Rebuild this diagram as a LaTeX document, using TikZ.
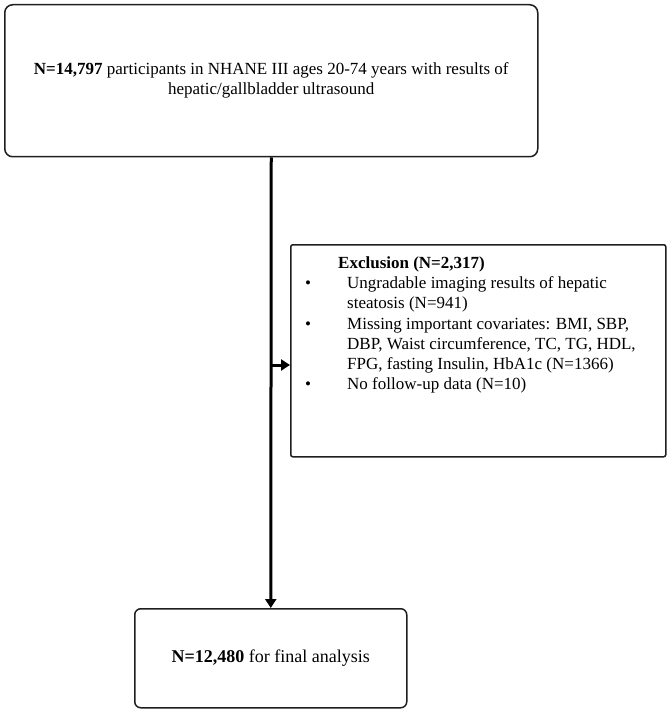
\documentclass[tikz,border=0pt]{standalone}
\usepackage{fontspec}
\setmainfont{Liberation Serif}
\usetikzlibrary{arrows.meta}
\begin{document}
\begin{tikzpicture}[x=1pt,y=-1pt,
  box/.style={draw=black!88,line width=1.5pt,inner sep=0pt,anchor=north west},
  conn/.style={line width=3pt,-{Triangle[length=9pt,width=11pt]}},
  txt/.style={font=\fontsize{17}{20}\selectfont},
  bigtxt/.style={font=\fontsize{18}{20.5}\selectfont},
  ln/.style={txt,anchor=base west,inner sep=0pt}]
\useasboundingbox (0,0) rectangle (669,711);
\node[box,rounded corners=8pt,minimum width=533pt,minimum height=152pt,align=center,txt] (top) at (4,4)
  {\textbf{N=14,797} participants in NHANE III ages 20-74 years with results of\\hepatic/gallbladder ultrasound};
\node[box,rounded corners=2pt,minimum width=375pt,minimum height=212pt] (excl) at (290,244) {};
\node[ln] (t0) at (338,268) {\textbf{Exclusion (N=2,317)}};
\node[ln] (b1) at (305,288) {•};
\node[ln] (t1) at (347,288) {Ungradable imaging results of hepatic};
\node[ln] (t2) at (347,308) {steatosis (N=941)};
\node[ln] (b2) at (305,329) {•};
\node[ln] (t3) at (347,329) {Missing important covariates: BMI, SBP,};
\node[ln] (t4) at (347,349) {DBP, Waist circumference, TC, TG, HDL,};
\node[ln] (t5) at (347,369) {FPG, fasting Insulin, HbA1c (N=1366)};
\node[ln] (b3) at (305,389) {•};
\node[ln] (t6) at (347,389) {No follow-up data (N=10)};
\node[box,rounded corners=6pt,minimum width=272pt,minimum height=99pt,align=center,bigtxt] (bot) at (134,608)
  {\textbf{N=12,480} for final analysis};
\coordinate (br) at (top.south |- 0,365);
\draw[conn] (top.south) -- (bot.north);
\draw[conn] (br) -- (excl.west |- br);
\end{tikzpicture}
\end{document}
